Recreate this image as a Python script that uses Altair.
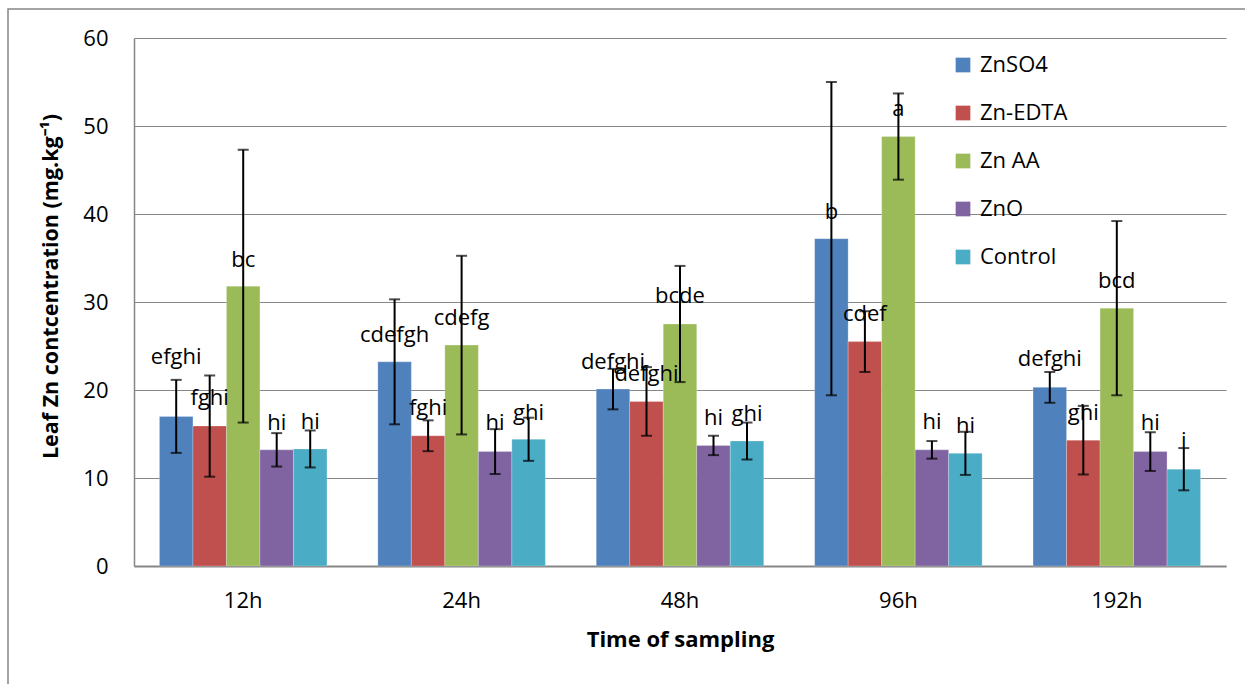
import altair as alt
import pandas as pd

times = ["12h", "24h", "48h", "96h", "192h"]
series = ["ZnSO4", "Zn-EDTA", "Zn AA", "ZnO", "Control"]
colors = ["#4F81BD", "#C0504D", "#9BBB59", "#8064A2", "#4BACC6"]

# mean leaf Zn concentration per series, in order of times
znso4 = [17.0, 23.2, 20.1, 37.2, 20.3]
znedta = [15.9, 14.8, 18.7, 25.5, 14.3]
znaa = [31.8, 25.1, 27.5, 48.8, 29.3]
zno = [13.2, 13.0, 13.7, 13.2, 13.0]
control = [13.3, 14.4, 14.2, 12.8, 11.0]

# error (half-width of error bars)
znso4_err = [4.15, 7.1, 2.3, 17.8, 1.75]
znedta_err = [5.75, 1.75, 3.9, 3.45, 3.9]
znaa_err = [15.5, 10.15, 6.6, 4.9, 9.9]
zno_err = [1.9, 2.55, 1.1, 1.0, 2.2]
control_err = [2.1, 2.45, 2.1, 2.45, 2.4]

# significance letters
znso4_lab = ["efghi", "cdefgh", "defghi", "b", "defghi"]
znedta_lab = ["fghi", "fghi", "defghi", "cdef", "ghi"]
znaa_lab = ["bc", "cdefg", "bcde", "a", "bcd"]
zno_lab = ["hi", "hi", "hi", "hi", "hi"]
control_lab = ["hi", "ghi", "ghi", "hi", "i"]

# height (data units) at which each letter label sits
znso4_pos = [23.8, 26.2, 23.2, 40.2, 23.5]
znedta_pos = [19.1, 18.0, 21.8, 28.6, 17.4]
znaa_pos = [34.8, 28.2, 30.7, 51.9, 32.4]
zno_pos = [16.3, 16.2, 16.8, 16.4, 16.3]
control_pos = [16.4, 17.4, 17.3, 15.9, 14.2]

means = [znso4, znedta, znaa, zno, control]
errs = [znso4_err, znedta_err, znaa_err, zno_err, control_err]
labs = [znso4_lab, znedta_lab, znaa_lab, zno_lab, control_lab]
poss = [znso4_pos, znedta_pos, znaa_pos, zno_pos, control_pos]

rows = []
for s, m, e, l, p in zip(series, means, errs, labs, poss):
    for i, t in enumerate(times):
        rows.append({"time": t, "series": s, "value": m[i],
                     "lo": m[i] - e[i], "hi": m[i] + e[i],
                     "label": l[i], "lpos": p[i]})
df = pd.DataFrame(rows)

FONT = "Open Sans"
FS = 22

x_enc = alt.X("time:N", sort=times,
              scale=alt.Scale(paddingInner=0.233, paddingOuter=0.1165),
              axis=alt.Axis(title="Time of sampling", labelAngle=0,
                            labelFontSize=FS, labelPadding=24, labelColor="#000000",
                            ticks=False, tickSize=0, domainColor="#868686",
                            domainWidth=2, titleFontSize=22, titleFontWeight="bold",
                            titlePadding=18, titleColor="#000000",
                            labelFont=FONT, titleFont=FONT))
xo_enc = alt.XOffset("series:N", sort=series,
                     scale=alt.Scale(paddingInner=0, paddingOuter=0))
y_scale = alt.Scale(domain=[0, 60])

base = alt.Chart(df)

frame = alt.Chart(pd.DataFrame({"a": [0]})).mark_rect(
    fill="white", fillOpacity=0, stroke="#868686", strokeWidth=1.5
).encode(x=alt.value(-126), x2=alt.value(1300), y=alt.value(-29), y2=alt.value(720))

bars = base.mark_bar(stroke="#ffffff", strokeWidth=0.4, strokeOpacity=0.6).encode(
    x=x_enc,
    xOffset=xo_enc,
    y=alt.Y("value:Q", scale=y_scale,
            axis=alt.Axis(title="Leaf Zn contcentration (mg.kg⁻¹)", values=[0, 10, 20, 30, 40, 50, 60],
                          labelFontSize=FS, labelPadding=26, labelColor="#000000",
                          ticks=False, tickSize=0, domainColor="#868686",
                          domainWidth=1.5, gridColor="#868686", gridWidth=1,
                          titleFontSize=21.5, titleFontWeight="bold", titlePadding=20,
                          titleY=248,
                          titleColor="#000000", labelFont=FONT, titleFont=FONT)),
    color=alt.Color("series:N", sort=series,
                    scale=alt.Scale(domain=series, range=colors),
                    legend=alt.Legend(orient="none", legendX=818, legendY=16, title=None,
                                      symbolType="square", symbolSize=216,
                                      symbolStrokeWidth=0, labelFontSize=FS,
                                      labelFont=FONT, labelColor="#000000",
                                      rowPadding=26, labelOffset=6)),
)

rules = base.mark_rule(color="black", strokeWidth=2).encode(
    x=alt.X("time:N", sort=times), xOffset=alt.XOffset("series:N", sort=series),
    y=alt.Y("lo:Q"), y2="hi:Q")

caps_hi = base.mark_tick(color="black", thickness=2, size=11).encode(
    x=alt.X("time:N", sort=times), xOffset=alt.XOffset("series:N", sort=series),
    y=alt.Y("hi:Q"))
caps_lo = base.mark_tick(color="black", thickness=2, size=11).encode(
    x=alt.X("time:N", sort=times), xOffset=alt.XOffset("series:N", sort=series),
    y=alt.Y("lo:Q"))

texts = base.mark_text(fontSize=FS, font=FONT, color="black", baseline="middle").encode(
    x=alt.X("time:N", sort=times), xOffset=alt.XOffset("series:N", sort=series),
    y=alt.Y("lpos:Q"), text="label:N")

chart = alt.layer(frame, bars, rules, caps_hi, caps_lo, texts).properties(
    width=1092, height=528,
    autosize=alt.AutoSizeParams(type="none"),
    padding={"left": 134, "top": 38, "right": 19, "bottom": 118},
    background="white",
).configure_view(stroke=None)

chart.save("out.html", embed_options={"renderer": "svg", "actions": False})
